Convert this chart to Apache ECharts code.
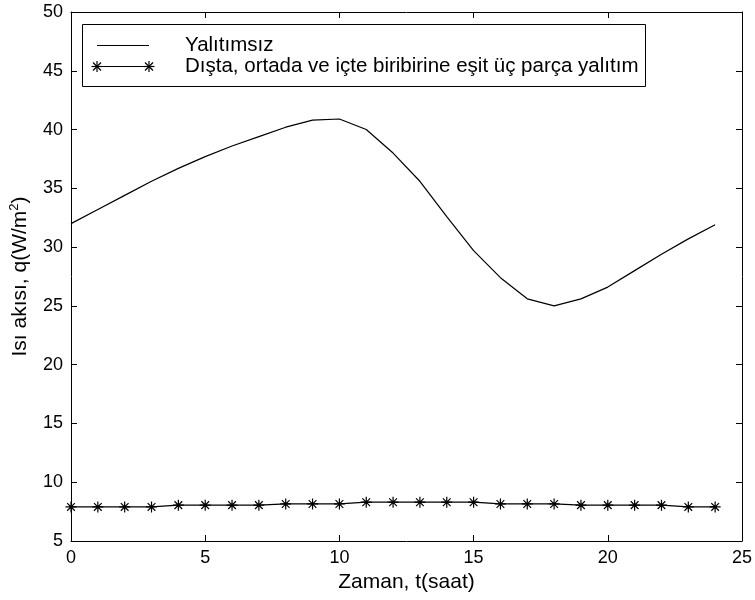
<!DOCTYPE html>
<html>
<head>
<meta charset="utf-8">
<script src="https://cdn.jsdelivr.net/npm/echarts@6/dist/echarts.min.js"></script>
<style>
    html, body { margin: 0; padding: 0; background: #fff; }
    #chart { width: 755px; height: 600px; }
</style>
</head>
<body>
<div id="chart"></div>
<script>
    // saat (0..24)
    var hours = [0, 1, 2, 3, 4, 5, 6, 7, 8, 9, 10, 11, 12, 13, 14, 15, 16, 17, 18, 19, 20, 21, 22, 23, 24];
    // Yalıtımsız
    var uninsulated = [32.0, 33.2, 34.4, 35.6, 36.7, 37.7, 38.6, 39.4, 40.2, 40.8, 40.9, 40.0, 38.0, 35.6, 32.6,
        29.7, 27.4, 25.6, 25.0, 25.6, 26.6, 28.0, 29.4, 30.7, 31.9];
    // Dışta, ortada ve içte eşit üç parça yalıtım
    var insulated = [7.9, 7.9, 7.9, 7.9, 8.05, 8.05, 8.05, 8.05, 8.15, 8.15, 8.15, 8.3, 8.3, 8.3, 8.3,
        8.3, 8.15, 8.15, 8.15, 8.05, 8.05, 8.05, 8.05, 7.9, 7.9];

    var names = ['Yalıtımsız', 'Dışta, ortada ve içte biribirine eşit üç parça yalıtım'];
    var xTicks = { min: 0, max: 25, step: 5 };
    var yTicks = { min: 5, max: 50, step: 5 };

    var font = 'Liberation Sans, Arial, Helvetica, sans-serif';
    var starPath = 'path://M5,0L5,10M0,5L10,5M1.5,1.5L8.5,8.5M1.5,8.5L8.5,1.5';

    function pairs(ys) {
        var out = [];
        for (var i = 0; i < hours.length; i++) {
            out.push([hours[i], ys[i]]);
        }
        return out;
    }

    // legend asterisk drawn as 4 short strokes
    function star(cx, cy) {
        var r = 5.5, d = 4;
        var segs = [[0, -r, 0, r], [-r, 0, r, 0], [-d, -d, d, d], [-d, d, d, -d]];
        return segs.map(function (s) {
            return {
                type: 'line',
                shape: { x1: cx + s[0], y1: cy + s[1], x2: cx + s[2], y2: cy + s[3] },
                style: { stroke: '#000', lineWidth: 1.2 }
            };
        });
    }

    function xAxisOpt(pos, showLabel) {
        return {
            type: 'value', position: pos,
            min: xTicks.min, max: xTicks.max, interval: xTicks.step,
            axisLine: { show: true, onZero: false, lineStyle: { color: '#000', width: 1 } },
            axisTick: { show: true, inside: true, length: 6, lineStyle: { color: '#000' } },
            axisLabel: { show: showLabel, color: '#000', fontSize: 18, fontFamily: font, margin: 8 },
            splitLine: { show: false }
        };
    }

    function yAxisOpt(pos, showLabel) {
        return {
            type: 'value', position: pos,
            min: yTicks.min, max: yTicks.max, interval: yTicks.step,
            axisLine: { show: true, onZero: false, lineStyle: { color: '#000', width: 1 } },
            axisTick: { show: true, inside: true, length: 6, lineStyle: { color: '#000' } },
            axisLabel: { show: showLabel, color: '#000', fontSize: 18, fontFamily: font, margin: 8 },
            splitLine: { show: false }
        };
    }

    var xBottom = xAxisOpt('bottom', true);
    xBottom.name = 'Zaman, t(saat)';
    xBottom.nameLocation = 'middle';
    xBottom.nameGap = 27;
    xBottom.nameTextStyle = { color: '#000', fontSize: 21, fontFamily: font };

    var yLeft = yAxisOpt('left', true);
    yLeft.name = '{a|Isı akısı, q(W/m}{s|2}{a|)}';
    yLeft.nameLocation = 'middle';
    yLeft.nameGap = 38;
    yLeft.nameTextStyle = {
        color: '#000', fontFamily: font,
        rich: {
            a: { fontSize: 21, color: '#000', fontFamily: font },
            s: { fontSize: 13, color: '#000', fontFamily: font, padding: [0, 0, 12, 0] }
        }
    };

    var legendGraphics = [
        {
            type: 'rect',
            shape: { x: 82.5, y: 24.5, width: 563, height: 62 },
            style: { fill: '#fff', stroke: '#000', lineWidth: 1 },
            z: 100
        },
        {
            type: 'line',
            shape: { x1: 97, y1: 45.5, x2: 149, y2: 45.5 },
            style: { stroke: '#000', lineWidth: 1.2 },
            z: 101
        },
        {
            type: 'text', x: 185, y: 45,
            style: { text: names[0], fill: '#000', fontSize: 20.5, fontFamily: font, verticalAlign: 'middle' },
            z: 101
        },
        {
            type: 'line',
            shape: { x1: 97, y1: 66.5, x2: 149, y2: 66.5 },
            style: { stroke: '#000', lineWidth: 1.2 },
            z: 101
        },
        {
            type: 'text', x: 185, y: 66,
            style: { text: names[1], fill: '#000', fontSize: 20.5, fontFamily: font, verticalAlign: 'middle' },
            z: 101
        }
    ];
    star(97, 66.5).concat(star(149, 66.5)).forEach(function (g) {
        g.z = 101;
        legendGraphics.push(g);
    });

    var chart = echarts.init(document.getElementById('chart'));
    chart.setOption({
        backgroundColor: '#fff',
        animation: false,
        grid: { left: 68, right: 13, top: 12, bottom: 59 },
        xAxis: [xBottom, xAxisOpt('top', false)],
        yAxis: [yLeft, yAxisOpt('right', false)],
        graphic: legendGraphics,
        series: [
            {
                name: names[0],
                type: 'line',
                data: pairs(uninsulated),
                showSymbol: false,
                lineStyle: { color: '#000', width: 1.2 },
                itemStyle: { color: '#000' }
            },
            {
                name: names[1],
                type: 'line',
                data: pairs(insulated),
                symbol: starPath,
                symbolSize: 11,
                lineStyle: { color: '#000', width: 1.2 },
                itemStyle: { color: '#000', borderColor: '#000', borderWidth: 1.2 }
            }
        ]
    });
</script>
</body>
</html>
